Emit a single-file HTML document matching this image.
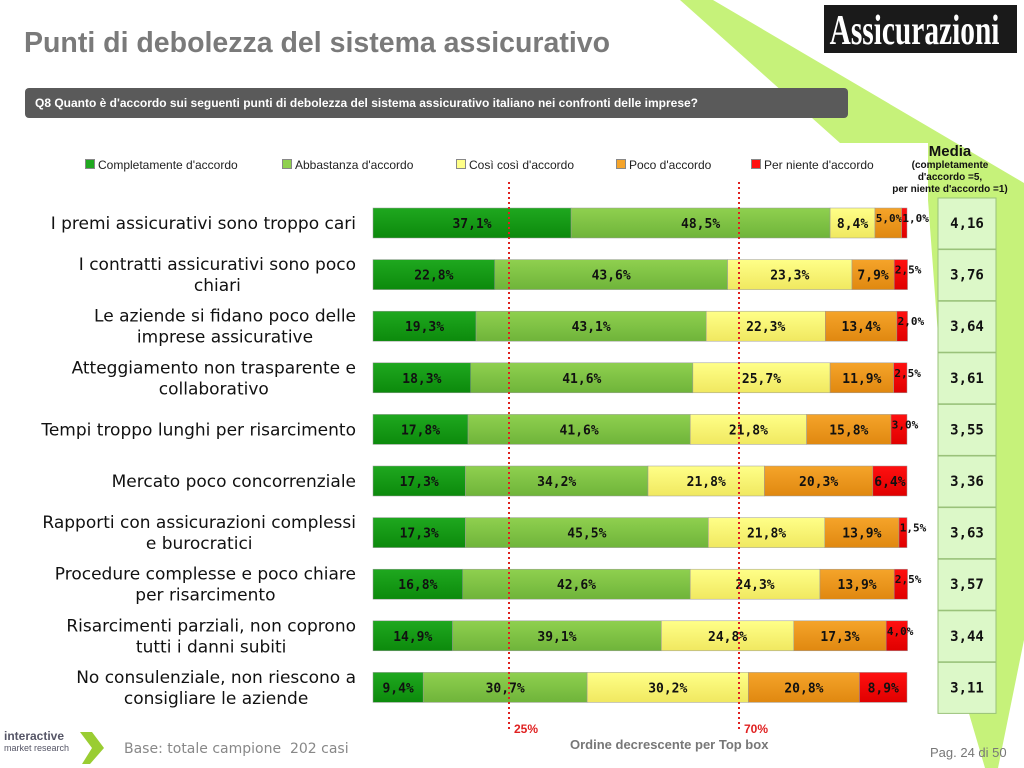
<!DOCTYPE html>
<html><head><meta charset="utf-8">
<style>
body{margin:0;width:1024px;height:768px;background:#fff;position:relative;overflow:hidden;font-family:"Liberation Sans",sans-serif}
.abs{position:absolute}
</style></head>
<body>
<svg class="abs" style="left:0;top:0" width="1024" height="768">
<polygon points="680,0 713,0 1024,183 1024,640 998,768 985,768 965,700 928,200 928,143 840,143" fill="#c6f27a"/>
</svg>
<div class="abs" style="left:24px;top:27px;font-size:28.5px;font-weight:bold;color:#7a7a7a;white-space:nowrap">Punti di debolezza del sistema assicurativo</div>
<div class="abs" style="left:824px;top:5px;width:193px;height:48px;background:#1a1a1a;overflow:hidden"><div style="color:#fff;font-family:'Liberation Serif',serif;font-weight:bold;font-size:42px;line-height:52px;white-space:nowrap;transform:scaleX(0.7);transform-origin:0 0;padding-left:8px">Assicurazioni</div></div>
<div class="abs" style="left:25px;top:88px;width:823px;height:30px;background:#5a5a5a;border-radius:4px;color:#fff;font-size:12px;font-weight:bold;line-height:30px;padding-left:10px;box-sizing:border-box">Q8 Quanto è d'accordo sui seguenti punti di debolezza del sistema assicurativo italiano nei confronti delle imprese?</div>
<div id="legend" class="abs" style="left:0;top:158px;font-size:12px;color:#222"></div>
<div class="abs" style="left:880px;top:143px;width:140px;text-align:center;color:#111;font-weight:bold">
<div style="font-size:15px">Media</div>
<div style="font-size:10px;line-height:12px">(completamente<br>d'accordo =5,<br>per niente d'accordo =1)</div></div>
<svg id="chart" class="abs" style="left:0;top:0" width="1024" height="768"></svg>
<div class="abs" style="left:124px;top:741px;font-size:14px;color:#888;font-family:'DejaVu Sans',sans-serif">Base: totale campione&nbsp; 202 casi</div>
<div class="abs" style="left:570px;top:737px;font-size:13px;color:#777;font-weight:bold">Ordine decrescente per Top box</div>
<div class="abs" style="left:930px;top:745px;font-size:13px;color:#777">Pag. 24 di 50</div>
<div class="abs" style="left:4px;top:731px;font-size:12px;font-weight:bold;color:#556;line-height:11px">interactive<br><span style="font-size:9px;font-weight:normal">market research</span></div>
<svg class="abs" style="left:78px;top:730px" width="30" height="36"><polygon points="2,2 14,2 26,18 12,34 4,34 14,18" fill="#9acd32"/></svg>
<script>
const categories=["I premi assicurativi sono troppo cari","I contratti assicurativi sono poco chiari","Le aziende si fidano poco delle imprese assicurative","Atteggiamento non trasparente e collaborativo","Tempi troppo lunghi per risarcimento","Mercato poco concorrenziale","Rapporti con assicurazioni complessi e burocratici","Procedure complesse e poco chiare per risarcimento","Risarcimenti parziali, non coprono tutti i danni subiti","No consulenziale, non riescono a consigliare le aziende"];
const labelLines=[["I premi assicurativi sono troppo cari"],["I contratti assicurativi sono poco","chiari"],["Le aziende si fidano poco delle","imprese assicurative"],["Atteggiamento non trasparente e","collaborativo"],["Tempi troppo lunghi per risarcimento"],["Mercato poco concorrenziale"],["Rapporti con assicurazioni complessi","e burocratici"],["Procedure complesse e poco chiare","per risarcimento"],["Risarcimenti parziali, non coprono","tutti i danni subiti"],["No consulenziale, non riescono a","consigliare le aziende"]];
const completamente=[37.1,22.8,19.3,18.3,17.8,17.3,17.3,16.8,14.9,9.4];
const abbastanza=[48.5,43.6,43.1,41.6,41.6,34.2,45.5,42.6,39.1,30.7];
const cosi=[8.4,23.3,22.3,25.7,21.8,21.8,21.8,24.3,24.8,30.2];
const poco=[5.0,7.9,13.4,11.9,15.8,20.3,13.9,13.9,17.3,20.8];
const perNiente=[1.0,2.5,2.0,2.5,3.0,6.4,1.5,2.5,4.0,8.9];
const media=["4,16","3,76","3,64","3,61","3,55","3,36","3,63","3,57","3,44","3,11"];
const seriesNames=["Completamente d'accordo","Abbastanza d'accordo","Così così d'accordo","Poco d'accordo","Per niente d'accordo"];
const refLines=[25,70];
const refLabels=["25%","70%"];

const NS="http://www.w3.org/2000/svg";
const svg=document.getElementById('chart');
const X0=373,W=534,ROW0=223,STEP=51.6,BH=30;
const xs=v=>X0+v/100*W;
const yc=i=>ROW0+i*STEP;
const colors=[["#1fa81f","#0c8a0c"],["#8fd04f","#6fb43a"],["#ffff88","#f0e860"],["#f5a42a","#e08810"],["#ff1010","#e00000"]];
const series=[completamente,abbastanza,cosi,poco,perNiente];
const defs=document.createElementNS(NS,'defs');svg.appendChild(defs);
colors.forEach((c,k)=>{const g=document.createElementNS(NS,'linearGradient');g.id='g'+k;g.setAttribute('x1','0');g.setAttribute('y1','0');g.setAttribute('x2','0');g.setAttribute('y2','1');
g.innerHTML=`<stop offset="0" stop-color="${c[0]}"/><stop offset="1" stop-color="${c[1]}"/>`;defs.appendChild(g);});
function mk(t,a){const e=document.createElementNS(NS,t);for(const k in a)e.setAttribute(k,a[k]);svg.appendChild(e);return e;}
const fmt=v=>v.toFixed(1).replace('.',',')+'%';
categories.forEach((c,i)=>{
  const y=yc(i);
  let acc=0;
  series.forEach((s,k)=>{
    const r=mk('rect',{x:xs(acc),y:y-BH/2,width:xs(acc+s[i])-xs(acc),height:BH,fill:`url(#g${k})`,stroke:'#999','stroke-width':0.5});
    
    
    const mid=(xs(acc)+xs(acc+s[i]))/2;
    const small=s[i]<6;
    const t=mk('text',{x:small?xs(acc)+14:mid,y:small?y-1:y+5,'text-anchor':'middle','font-size':small?11:13,'font-weight':'bold','font-family':'DejaVu Sans Mono, monospace',fill:'#111'});
    t.textContent=fmt(s[i]);
    
    
    acc+=s[i];
  });
  const lines=labelLines[i];
  let center=null;
  lines.forEach((l,j)=>{
    const t=mk('text',{x:356,y:y+6+(j-(lines.length-1)/2)*21,'text-anchor':'end','font-size':17,'font-family':'DejaVu Sans, sans-serif',fill:'#111'});
    t.textContent=l;
    
    
    if(j==0){center=356-t.getComputedTextLength()/2;}
    else{t.setAttribute('x',center);t.setAttribute('text-anchor','middle');}
  });
  const b=mk('rect',{x:938,y:y-25,width:58,height:51,fill:'#dcf8c8',stroke:'#9ac27a','stroke-width':1});
  
  
  const mt=mk('text',{x:967,y:y+5,'text-anchor':'middle','font-size':14,'font-weight':'bold','font-family':'DejaVu Sans Mono, monospace',fill:'#111'});
  mt.textContent=media[i];
  
  
});
const refX=[509,739];
refLines.forEach((v,k)=>{
  const l=mk('line',{x1:refX[k],x2:refX[k],y1:182,y2:732,stroke:'#e02020','stroke-width':2,'stroke-dasharray':'2,3'});
  
  
  const t=mk('text',{x:refX[k]+5,y:733,'font-size':12,'font-weight':'bold',fill:'#e02020'});
  t.textContent=refLabels[k];
  
  
});
const leg=document.getElementById('legend');
const legX=[85,282,456,616,751];
seriesNames.forEach((n,k)=>{
  const d=document.createElement('div');
  
  
  d.style.cssText=`position:absolute;left:${legX[k]}px;top:0;white-space:nowrap`;
  d.innerHTML=`<span style="display:inline-block;width:8px;height:8px;background:${colors[k][0]};border:1px solid #888;margin-right:3px"></span>${n}`;
  leg.appendChild(d);
});
</script>
</body></html>
